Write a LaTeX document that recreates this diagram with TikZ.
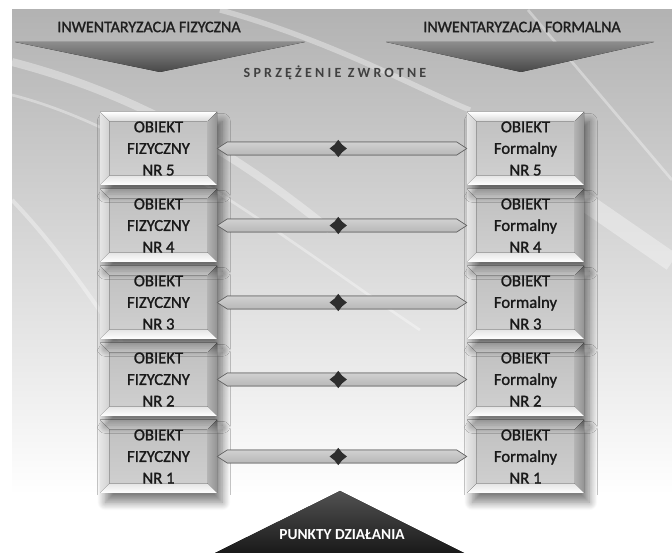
\documentclass[tikz,border=0pt]{standalone}
\usepackage{fontspec}
\setmainfont{Carlito}
\usepackage{tikz}
\usetikzlibrary{calc,shapes.geometric,shadows.blur}
\newcommand{\bev}{7pt}
\newcommand{\barh}{4.9pt}
\newcommand{\tipl}{7.5pt}

\tikzset{
  bevtop/.style={top color=white, bottom color=black!15},
  bevleft/.style={left color=black!10, right color=black!18},
  bevright/.style={left color=black!30, right color=black!42},
  bevbottom/.style={top color=black!10, bottom color=white},
  objbox/.style={minimum width=87.75pt, minimum height=54.75pt, inner sep=0pt,
    align=center, font=\fontsize{12.5}{16.2}\selectfont\addfontfeatures{FakeBold=1.3}, text=black!90,
    top color=black!25, bottom color=black!18,
    blur shadow={shadow xshift=4pt, shadow yshift=-7pt, shadow blur steps=12, shadow opacity=50,
      shadow blur radius=6pt},
    path picture={
      \path (path picture bounding box.north west) coordinate (pnw)
            (path picture bounding box.south east) coordinate (pse);
      \path (pnw -| pse) coordinate (pne) (pnw |- pse) coordinate (psw);
      \fill[bevtop] (pnw) -- (pne) -- ($(pne)+(-\bev,-\bev)$) -- ($(pnw)+(\bev,-\bev)$) -- cycle;
      \fill[bevleft] (pnw) -- ($(pnw)+(\bev,-\bev)$) -- ($(psw)+(\bev,\bev)$) -- (psw) -- cycle;
      \fill[bevright] (pne) -- ($(pne)+(-\bev,-\bev)$) -- ($(pse)+(-\bev,\bev)$) -- (pse) -- cycle;
      \fill[bevbottom] (psw) -- ($(psw)+(\bev,\bev)$) -- ($(pse)+(-\bev,\bev)$) -- (pse) -- cycle;
    }},
  linkbar/.style={top color=black!18, middle color=white, bottom color=black!28,
    draw=black!60, line width=0.5pt},
  linkmark/.style={star, star points=4, star point ratio=1.6, fill=black!82,
    minimum size=13pt, inner sep=0pt},
  headtext/.style={font=\fontsize{12}{14}\selectfont\addfontfeatures{FakeBold=1.5}, text=black!88},
  toparrow/.style={top color=black!45, bottom color=black!72},
  swoosh/.style={white, opacity=0.35, line width=#1},
}

\begin{document}
\begin{tikzpicture}[x=0.75pt,y=-0.75pt]
        \useasboundingbox (0,0) rectangle (672,555);
        % background
        \shade[top color=black!30, bottom color=white] (12,10) rectangle (672,495);
        \draw[swoosh=6pt] (12,62) .. controls (120,90) and (220,140) .. (330,230);
        \draw[swoosh=3pt] (12,200) .. controls (60,250) and (100,310) .. (140,370);
        \draw[swoosh=2pt] (12,95) .. controls (150,130) and (300,250) .. (420,330);
        \draw[swoosh=2pt] (528,10) -- (672,180);
        \draw[swoosh=14pt] (575,195) -- (672,262);
        \draw[swoosh=4pt] (220,10) .. controls (330,40) and (420,90) .. (470,110);

        % top arrows
        \fill[toparrow] (15,42) -- (305,42) -- (160,72) -- cycle;
        \fill[toparrow] (386,42) -- (654,42) -- (521,72) -- cycle;
        \node[headtext] (tfiz) at (149,27) {INWENTARYZACJA FIZYCZNA};
        \node[headtext] (tform) at (522,27) {INWENTARYZACJA FORMALNA};
        \node[font=\bfseries\fontsize{10.5}{12}\selectfont\addfontfeatures{LetterSpace=23},
              text=black!75] (feedback) at (335,73) {SPRZĘŻENIE ZWROTNE};

        % bottom triangle
        \fill[top color=black!68, bottom color=black!90] (340,491) -- (464,553) -- (215,553) -- cycle;
        \node[font=\bfseries\fontsize{11.5}{13}\selectfont, text=white] (action) at (342,535) {PUNKTY DZIAŁANIA};

        % objects
        \foreach \i in {1,...,5}{
            \node[objbox] (f\i) at (158.5,{148.5+77*(5-\i)}) {OBIEKT\\FIZYCZNY\\NR \i};
            \node[objbox] (m\i) at (525.5,{148.5+77*(5-\i)}) {OBIEKT\\Formalny\\NR \i};
        }

        % links
        \foreach \i in {1,...,5}{
            \filldraw[linkbar] (f\i.east) -- ($(f\i.east)+(\tipl,\barh)$) -- ($(m\i.west)+(-\tipl,\barh)$)
                -- (m\i.west) -- ($(m\i.west)+(-\tipl,-\barh)$) -- ($(f\i.east)+(\tipl,-\barh)$) -- cycle;
            \node[linkmark] (d\i) at ($(f\i.east)!0.485!(m\i.west)$) {};
        }
    \end{tikzpicture}
\end{document}
